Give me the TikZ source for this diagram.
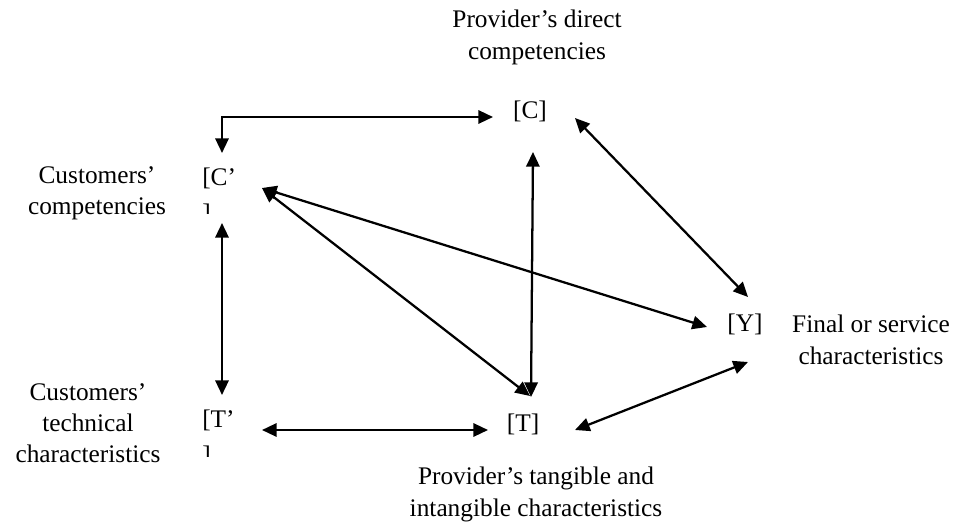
\documentclass[tikz,border=0pt]{standalone}
\usepackage{fontspec}
\setmainfont{Liberation Serif}
\usetikzlibrary{arrows.meta}

\begin{document}
\begin{tikzpicture}[x=0.75pt,y=-0.75pt,
        lbl/.style={align=center,anchor=north,inner sep=0pt,font=\fontsize{19}{23.5}\selectfont},
        var/.style={inner sep=0pt,font=\fontsize{19}{23}\selectfont},
        varw/.style={align=left,anchor=north west,inner sep=0pt,font=\fontsize{19}{27}\selectfont},
        link/.style={{Triangle[length=11pt,width=10pt]}-{Triangle[length=11pt,width=10pt]},line width=1.7pt}]

            \useasboundingbox (0,0) rectangle (973,527);

            % variables
            \node[var] (C) at (530,111) {[C]};
            \node[var] (T) at (523,424) {[T]};
            \node[var] (Y) at (745,324) {[Y]};
            \begin{scope}
                \clip (190,160) rectangle (250,214);
                \node[varw] (Cp) at (202,168) {[C’\\]};
            \end{scope}
            \begin{scope}
                \clip (190,400) rectangle (250,456);
                \node[varw] (Tp) at (202,410) {[T’\\]};
            \end{scope}

            % labels
            \node[lbl] (lC) at (537,10) {Provider’s direct\\competencies};
            \node[lbl] (lCp) at (97,166) {Customers’\\competencies};
            \node[lbl] (lTp) at (88,383) {Customers’\\technical\\characteristics};
            \node[lbl] (lY) at (871,315) {Final or service\\characteristics};
            \node[lbl] (lT) at (536,467) {Provider’s tangible and\\intangible characteristics};

            % links
            \draw[link] ([shift={(20,-15)}]Cp.north west) |- ([shift={(-37,6)}]C.center);
            \draw[link] ([shift={(3,41)}]C.center) -- ([shift={(8,-27)}]T.center);
            \draw[link] ([shift={(45,7)}]C.center) -- ([shift={(3,-27)}]Y.center);
            \draw[link] ([shift={(60,20)}]Cp.north west) -- ([shift={(-38,3)}]Y.center);
            \draw[link] ([shift={(60,20)}]Cp.north west) -- ([shift={(7,-28)}]T.center);
            \draw[link] ([shift={(20,55)}]Cp.north west) -- ([shift={(20,-15)}]Tp.north west);
            \draw[link] ([shift={(60,20)}]Tp.north west) -- ([shift={(-35,6)}]T.center);
            \draw[link] ([shift={(52,6)}]T.center) -- ([shift={(3,38)}]Y.center);

\end{tikzpicture}
\end{document}
